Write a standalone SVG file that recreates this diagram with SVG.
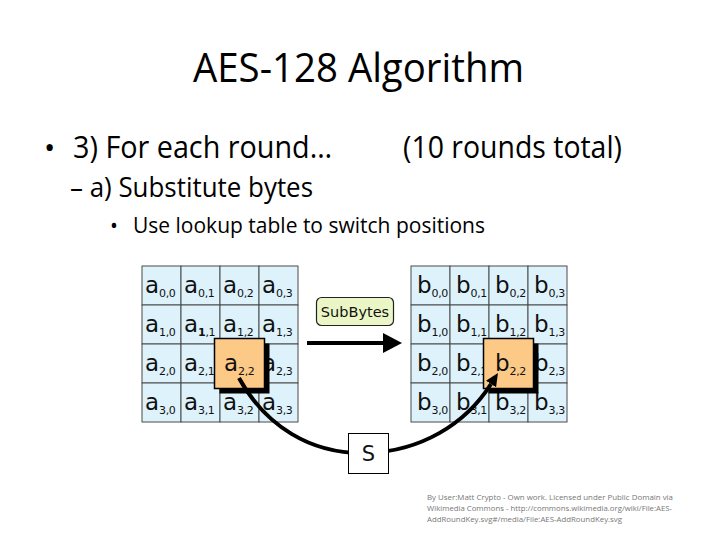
<svg xmlns="http://www.w3.org/2000/svg" width="720" height="540" viewBox="0 0 720 540">
<defs>
<style>
.title{font-family:"Open Sans","Liberation Sans",sans-serif;fill:#000}
.cell{fill:#ddf2fb;stroke:#4a4a4a;stroke-width:1}
.ct{font-family:"DejaVu Sans","Liberation Sans",sans-serif;font-size:23px;fill:#111}
.sub{font-size:11px;letter-spacing:-0.4px}
.hl{fill:#fcc987;stroke:#000;stroke-width:1.5}
.sh{fill:#000}
.conn{fill:none;stroke:#000;stroke-width:4}
.credit{font-family:"Open Sans","Liberation Sans",sans-serif;font-size:7.5px;fill:#777}
</style>
<marker id="bigHead" markerUnits="userSpaceOnUse" markerWidth="20" markerHeight="22" refX="0" refY="10" orient="auto"><path d="M0,0 L19,10 L0,20 z" fill="#000"/></marker>
<marker id="smallHead" markerUnits="userSpaceOnUse" markerWidth="14" markerHeight="14" refX="0" refY="6" orient="auto"><path d="M0,0 L13,6 L0,12 z" fill="#000"/></marker>
</defs>
<rect width="720" height="540" fill="#fff"/>
<g id="text-block">
<text class="title" x="193" y="82" font-size="40" textLength="331" lengthAdjust="spacingAndGlyphs">AES-128 Algorithm</text>
<text class="title" x="44" y="158" font-size="30">•</text>
<text class="title" x="73" y="158" font-size="31" textLength="259" lengthAdjust="spacingAndGlyphs">3) For each round…</text>
<text class="title" x="403" y="158" font-size="31" textLength="219" lengthAdjust="spacingAndGlyphs">(10 rounds total)</text>
<text class="title" x="70" y="197" font-size="27" textLength="243" lengthAdjust="spacingAndGlyphs">– a) Substitute bytes</text>
<text class="title" x="110" y="233" font-size="21">•</text>
<text class="title" x="133" y="233" font-size="22" textLength="352" lengthAdjust="spacingAndGlyphs">Use lookup table to switch positions</text>
</g>
<g id="grid-a">
<rect class="cell" x="142" y="266" width="39" height="39"/><rect class="cell" x="181" y="266" width="39" height="39"/><rect class="cell" x="220" y="266" width="39" height="39"/><rect class="cell" x="259" y="266" width="39" height="39"/>
<rect class="cell" x="142" y="305" width="39" height="39"/><rect class="cell" x="181" y="305" width="39" height="39"/><rect class="cell" x="220" y="305" width="39" height="39"/><rect class="cell" x="259" y="305" width="39" height="39"/>
<rect class="cell" x="142" y="344" width="39" height="39"/><rect class="cell" x="181" y="344" width="39" height="39"/><rect class="cell" x="220" y="344" width="39" height="39"/><rect class="cell" x="259" y="344" width="39" height="39"/>
<rect class="cell" x="142" y="383" width="39" height="39"/><rect class="cell" x="181" y="383" width="39" height="39"/><rect class="cell" x="220" y="383" width="39" height="39"/><rect class="cell" x="259" y="383" width="39" height="39"/>
<text class="ct" x="145" y="293">a<tspan class="sub" dy="4">0,0</tspan></text>
<text class="ct" x="184" y="293">a<tspan class="sub" dy="4">0,1</tspan></text>
<text class="ct" x="223" y="293">a<tspan class="sub" dy="4">0,2</tspan></text>
<text class="ct" x="262" y="293">a<tspan class="sub" dy="4">0,3</tspan></text>
<text class="ct" x="145" y="332">a<tspan class="sub" dy="4">1,0</tspan></text>
<text class="ct" x="184" y="332">a<tspan class="sub" dy="4" font-weight="bold">1</tspan><tspan class="sub">,1</tspan></text>
<text class="ct" x="223" y="332">a<tspan class="sub" dy="4">1,2</tspan></text>
<text class="ct" x="262" y="332">a<tspan class="sub" dy="4">1,3</tspan></text>
<text class="ct" x="145" y="371">a<tspan class="sub" dy="4">2,0</tspan></text>
<text class="ct" x="184" y="371">a<tspan class="sub" dy="4">2,1</tspan></text>
<text class="ct" x="262" y="371">a<tspan class="sub" dy="4">2,3</tspan></text>
<text class="ct" x="145" y="410">a<tspan class="sub" dy="4">3,0</tspan></text>
<text class="ct" x="184" y="410">a<tspan class="sub" dy="4">3,1</tspan></text>
<text class="ct" x="223" y="410">a<tspan class="sub" dy="4">3,2</tspan></text>
<text class="ct" x="262" y="410">a<tspan class="sub" dy="4">3,3</tspan></text>
</g>
<g id="grid-b">
<rect class="cell" x="411" y="266" width="39" height="39"/><rect class="cell" x="450" y="266" width="39" height="39"/><rect class="cell" x="489" y="266" width="39" height="39"/><rect class="cell" x="528" y="266" width="39" height="39"/>
<rect class="cell" x="411" y="305" width="39" height="39"/><rect class="cell" x="450" y="305" width="39" height="39"/><rect class="cell" x="489" y="305" width="39" height="39"/><rect class="cell" x="528" y="305" width="39" height="39"/>
<rect class="cell" x="411" y="344" width="39" height="39"/><rect class="cell" x="450" y="344" width="39" height="39"/><rect class="cell" x="489" y="344" width="39" height="39"/><rect class="cell" x="528" y="344" width="39" height="39"/>
<rect class="cell" x="411" y="383" width="39" height="39"/><rect class="cell" x="450" y="383" width="39" height="39"/><rect class="cell" x="489" y="383" width="39" height="39"/><rect class="cell" x="528" y="383" width="39" height="39"/>
<text class="ct" x="417" y="293">b<tspan class="sub" dy="4">0,0</tspan></text>
<text class="ct" x="456" y="293">b<tspan class="sub" dy="4">0,1</tspan></text>
<text class="ct" x="495" y="293">b<tspan class="sub" dy="4">0,2</tspan></text>
<text class="ct" x="534" y="293">b<tspan class="sub" dy="4">0,3</tspan></text>
<text class="ct" x="417" y="332">b<tspan class="sub" dy="4">1,0</tspan></text>
<text class="ct" x="456" y="332">b<tspan class="sub" dy="4">1,1</tspan></text>
<text class="ct" x="495" y="332">b<tspan class="sub" dy="4">1,2</tspan></text>
<text class="ct" x="534" y="332">b<tspan class="sub" dy="4">1,3</tspan></text>
<text class="ct" x="417" y="371">b<tspan class="sub" dy="4">2,0</tspan></text>
<text class="ct" x="456" y="371">b<tspan class="sub" dy="4">2,1</tspan></text>
<text class="ct" x="534" y="371">b<tspan class="sub" dy="4">2,3</tspan></text>
<text class="ct" x="417" y="410">b<tspan class="sub" dy="4">3,0</tspan></text>
<text class="ct" x="456" y="410">b<tspan class="sub" dy="4">3,1</tspan></text>
<text class="ct" x="495" y="410">b<tspan class="sub" dy="4">3,2</tspan></text>
<text class="ct" x="534" y="410">b<tspan class="sub" dy="4">3,3</tspan></text>
</g>
<g id="a22">
<rect class="sh" x="219.5" y="343.5" width="50" height="50"/>
<rect class="hl" x="214.5" y="338.5" width="50" height="50"/>
<text class="ct" x="224" y="371">a<tspan class="sub" dy="4">2,2</tspan></text>
</g>
<g id="b22">
<rect class="sh" x="488.5" y="343.5" width="50" height="50"/>
<rect class="hl" x="483.5" y="338.5" width="50" height="50"/>
<text class="ct" x="495" y="371">b<tspan class="sub" dy="4">2,2</tspan></text>
</g>
<g id="connectors">
<path class="conn" d="M307,343 H383" marker-end="url(#bigHead)"/>
<path class="conn" stroke-width="3.5" d="M239,378 C265,425 310,455 368,453 C420,451 465,425 491,384" marker-end="url(#smallHead)"/>
</g>
<g id="subbytes">
<rect x="316.5" y="297.5" width="77" height="28" rx="5" fill="#ebf6c6" stroke="#222" stroke-width="1.2"/>
<text x="355" y="316.5" font-family="DejaVu Sans, sans-serif" font-size="14.5" text-anchor="middle" fill="#111">SubBytes</text>
</g>
<g id="sbox">
<rect x="348.5" y="433.5" width="40" height="40" fill="#fff" stroke="#000" stroke-width="1"/>
<text x="368.5" y="461" font-family="DejaVu Sans, sans-serif" font-size="21" text-anchor="middle" fill="#111">S</text>
</g>
<g id="credit">
<text class="credit" x="427" y="500" textLength="246" lengthAdjust="spacingAndGlyphs">By User:Matt Crypto - Own work. Licensed under Public Domain via</text>
<text class="credit" x="427" y="511" textLength="245" lengthAdjust="spacingAndGlyphs">Wikimedia Commons - http://commons.wikimedia.org/wiki/File:AES-</text>
<text class="credit" x="427" y="522" textLength="195" lengthAdjust="spacingAndGlyphs">AddRoundKey.svg#/media/File:AES-AddRoundKey.svg</text>
</g>
</svg>
